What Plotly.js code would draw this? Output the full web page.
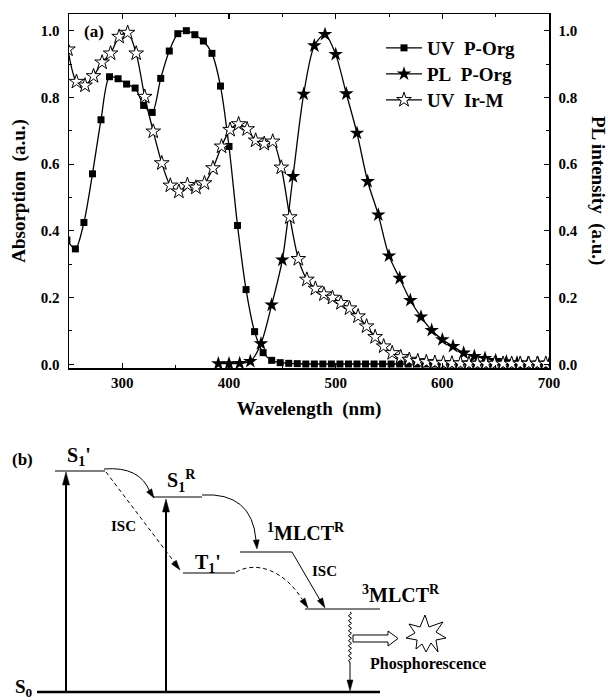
<!DOCTYPE html>
<html><head><meta charset="utf-8">
<script src="https://cdn.plot.ly/plotly-3.0.1.min.js"></script>
<style>html,body{margin:0;padding:0;background:#fff;}#chart{width:608px;height:700px;}</style>
</head><body><div id="chart"></div>
<script>
// ---------- data ----------
const uvPOrgX = [248,256,264,272,280,288,296,304,312,320,328,336,344,352,360,368,376,384,392,400,408,416,424,432,440,448,456,464,
  472,480,488,496,504,512,520,528,536,544,552,560,568,576,584,592,600,608,616,624,632,640,648,656,664,672,680,688,696];
const uvPOrgY = [0.373,0.346,0.425,0.571,0.733,0.862,0.856,0.840,0.828,0.776,0.755,0.857,0.939,0.991,1.000,0.988,0.969,0.932,0.834,0.653,0.416,0.224,0.098,0.035,0.012,0.005,0.003,0.002,
  0.001,0.001,0.001,0.001,0.001,0.001,0.001,0.001,0.001,0.001,0.001,0.001,0.001,0.001,0.001,0.001,0.001,0.001,0.001,0.001,0.001,0.001,0.001,0.001,0.001,0.001,0.001,0.001,0.001];

const plPOrgX = [390,400,410,420,430,440,450,460,470,480,490,500,510,520,530,540,550,560,570,580,590,600,610,620,630,640,650,660,670,680,690,700];
const plPOrgY = [0.002,0.002,0.003,0.009,0.062,0.178,0.313,0.563,0.810,0.955,0.989,0.929,0.811,0.693,0.548,0.448,0.325,0.258,0.192,0.142,0.102,0.074,0.054,0.034,0.024,0.018,0.012,0.008,0.005,0.003,0.002,0.001];

const uvIrMX = [249,257,265,273,281,289,297,305,313,321,329,337,345,353,361,369,377,385,393,401,409,417,425,433,441,449,457,465,473,481,489,497,
  505,513,521,529,537,545,553,561,569,577,585,593,601,609,617,625,633,641,649,657,665,673,681,689,697];
const uvIrMY = [0.944,0.847,0.836,0.864,0.905,0.932,0.982,0.994,0.932,0.802,0.698,0.603,0.536,0.518,0.538,0.530,0.543,0.588,0.653,0.703,0.720,0.705,0.671,0.661,0.668,0.590,0.441,0.316,0.254,0.227,0.210,0.200,
  0.184,0.168,0.144,0.114,0.082,0.054,0.034,0.022,0.014,0.010,0.007,0.005,0.004,0.003,0.003,0.002,0.002,0.002,0.002,0.002,0.002,0.002,0.002,0.002,0.002];

const seriesNames = ['UV\u00a0 P-Org', 'PL\u00a0 P-Org', 'UV\u00a0 Ir-M'];
const xTickVals = [300,400,500,600,700];
const yTickVals = [0,0.2,0.4,0.6,0.8,1.0];
const yTickText = ['0.0','0.2','0.4','0.6','0.8','1.0'];

// ---------- styling helpers ----------
const FAM = 'Liberation Serif';
const fnt = (s) => ({family: FAM, size: s, color: '#000', weight: 'bold'});
const W = 608, H = 700;
const X = p => p / W;
const Y = p => 1 - p / H;

const lineStyle = {color: '#000', width: 1.3, shape: 'spline', smoothing: 0.8};
const traces = [
  {x: uvPOrgX, y: uvPOrgY, name: seriesNames[0], mode: 'lines+markers', type: 'scatter', legend: 'legend',
   line: lineStyle, marker: {symbol: 'square', size: 7, color: '#000'}},
  {x: plPOrgX, y: plPOrgY, name: seriesNames[1], mode: 'lines+markers', type: 'scatter', legend: 'legend2',
   line: lineStyle, marker: {symbol: 'star', size: 11, color: '#000'}},
  {x: uvIrMX, y: uvIrMY, name: seriesNames[2], mode: 'lines+markers', type: 'scatter', legend: 'legend3',
   line: lineStyle, marker: {symbol: 'star', size: 11, color: '#fff', line: {color: '#000', width: 1}}}
];

const axCommon = {
  showline: true, linecolor: '#000', linewidth: 1.5, ticks: 'inside', ticklen: 5, tickwidth: 1.2, tickcolor: '#000',
  showgrid: false, zeroline: false, tickfont: fnt(15), automargin: false
};

// ---------- diagram (b) helpers ----------
const shapes = [];
function seg(x0, y0, x1, y1, w, dash) {
  shapes.push({type: 'line', xref: 'paper', yref: 'paper', x0: X(x0), y0: Y(y0), x1: X(x1), y1: Y(y1),
    line: {color: '#000', width: w, dash: dash || 'solid'}});
}
function pth(cmds, w, fill, dash) {
  let s = '';
  cmds.forEach(c => { s += (typeof c === 'string') ? c + ' ' : X(c[0]).toFixed(5) + ',' + Y(c[1]).toFixed(5) + ' '; });
  shapes.push({type: 'path', xref: 'paper', yref: 'paper', path: s.trim(),
    line: {color: '#000', width: w, dash: dash || 'solid'}, fillcolor: fill || 'rgba(0,0,0,0)'});
}
function head(tx, ty, fx, fy, L, hw) {
  const dx = tx - fx, dy = ty - fy, d = Math.hypot(dx, dy), ux = dx / d, uy = dy / d;
  const bx = tx - L * ux, by = ty - L * uy;
  pth(['M', [tx, ty], 'L', [bx - hw * uy, by + hw * ux], 'L', [bx + hw * uy, by - hw * ux], 'Z'], 0.5, '#000');
}

// energy levels
seg(37, 692, 380, 692, 2.5);          // S0
seg(55, 471, 105, 471, 1.2);          // S1'
seg(153, 497, 202, 497, 1.2);         // S1R
seg(183, 573, 235, 573, 1.2);         // T1'
seg(240, 552, 292, 552, 1.2);         // 1MLCT
seg(305, 609, 380, 609, 1.2);         // 3MLCT
// excitation arrows
seg(66, 692, 66, 484, 2); head(66, 472, 66, 500, 13, 3.5);
seg(166, 692, 166, 511, 2); head(166, 499, 166, 520, 13, 3.5);
// curved transfer arrows
pth(['M', [104, 469], 'Q', [140, 466], [150, 492]], 1);
head(154, 498, 147, 487, 9, 3);
pth(['M', [202, 495], 'Q', [252, 492], [256, 540]], 1);
head(257, 549, 256, 537, 9, 3);
// ISC dashed arrow S1' -> T1'
seg(106, 472, 175, 563, 1, '4px,3px'); head(180, 570, 170, 557, 10, 3);
// dashed curve T1' -> 3MLCT
pth(['M', [236, 572], 'C', [258, 560], [285, 572], [302, 599]], 1, null, '4px,3px');
head(308, 608, 300, 596, 10, 3);
// solid ISC arrow 1MLCT -> 3MLCT
seg(292, 552, 320, 600, 1); head(325, 608, 318, 596, 10, 3);
// wavy decay line
(function () {
  const c = ['M', [350, 612]];
  for (let y = 612; y < 660; y += 5) { c.push('Q', [353, y + 1.25], [350, y + 2.5], 'Q', [347, y + 3.75], [350, y + 5]); }
  pth(c, 1);
})();
seg(350, 662, 350, 681, 1); head(350, 691, 350, 676, 11, 3);
// hollow arrow
pth(['M', [353, 635], 'L', [388, 635], 'L', [388, 631], 'L', [398, 638.5], 'L', [388, 646], 'L', [388, 642], 'L', [353, 642], 'Z'], 1, '#fff');
// starburst
pth(['M', [425, 615], 'L', [429, 627], 'L', [443, 622], 'L', [436, 632], 'L', [446, 638], 'L', [436, 640], 'L', [438, 652],
  'L', [431, 643], 'L', [426, 652], 'L', [422, 644], 'L', [416, 649], 'L', [417, 640], 'L', [406, 638], 'L', [415, 633],
  'L', [409, 624], 'L', [420, 627], 'Z'], 1, '#fff');

function lab(text, x, y, size, xa) {
  return {text: text, xref: 'paper', yref: 'paper', x: X(x), y: Y(y), xanchor: xa || 'center', yanchor: 'middle',
    showarrow: false, font: fnt(size)};
}
const annotations = [
  lab('(a)', 94, 32, 17),
  {text: 'PL intensity\u00a0 (a.u.)', xref: 'paper', yref: 'paper', x: X(598), y: Y(190), textangle: 90,
   xanchor: 'center', yanchor: 'middle', showarrow: false, font: fnt(19)},
  lab('(b)', 22, 459, 17),
  lab("S<sub>1</sub>'", 79, 457, 20),
  lab('S<sub>1</sub><sup>R</sup>', 181, 481, 20),
  lab("T<sub>1</sub>'", 208, 563, 20),
  lab('<sup>1</sup>MLCT<sup>R</sup>', 306, 532, 20),
  lab('<sup>3</sup>MLCT<sup>R</sup>', 401, 594, 20),
  lab('ISC', 123, 526, 15),
  lab('ISC', 324, 571, 15),
  lab('Phosphorescence', 428, 664, 16),
  lab('S<sub>0</sub>', 24, 688, 19)
];

const legBase = {xanchor: 'left', yanchor: 'middle', bgcolor: 'rgba(0,0,0,0)', borderwidth: 0, font: fnt(19), itemwidth: 36};
const layout = {
  width: W, height: H, margin: {l: 0, r: 0, t: 0, b: 0},
  paper_bgcolor: '#fff', plot_bgcolor: 'rgba(0,0,0,0)', showlegend: true,
  xaxis: Object.assign({}, axCommon, {domain: [X(69), X(549)], range: [250, 700], tickvals: xTickVals, mirror: 'ticks',
    ticklabelstandoff: 0,
    minor: {ticks: 'inside', ticklen: 3, tickwidth: 1, tickcolor: '#000', dtick: 50, tick0: 250},
    title: {text: 'Wavelength\u00a0 (nm)', font: fnt(19), standoff: 12}}),
  yaxis: Object.assign({}, axCommon, {domain: [Y(368), Y(14)], range: [-0.011, 1.05], tickvals: yTickVals, ticktext: yTickText,
    ticklabelstandoff: 5,
    minor: {ticks: 'inside', ticklen: 3, tickwidth: 1, tickcolor: '#000', dtick: 0.1, tick0: 0},
    title: {text: 'Absorption\u00a0 (a.u.)', font: fnt(19), standoff: 10}}),
  yaxis2: Object.assign({}, axCommon, {overlaying: 'y', side: 'right', anchor: 'x', range: [-0.011, 1.05],
    tickvals: yTickVals, ticktext: yTickText, ticklabelstandoff: 5,
    minor: {ticks: 'inside', ticklen: 3, tickwidth: 1, tickcolor: '#000', dtick: 0.1, tick0: 0}}),
  legend: Object.assign({}, legBase, {x: X(381), y: Y(48)}),
  legend2: Object.assign({}, legBase, {x: X(381), y: Y(74)}),
  legend3: Object.assign({}, legBase, {x: X(381), y: Y(100)}),
  shapes: shapes,
  annotations: annotations
};
// dummy trace to activate the right axis (no visible marks)
traces.push({x: [], y: [], yaxis: 'y2', showlegend: false, hoverinfo: 'skip', type: 'scatter'});

Plotly.newPlot('chart', traces, layout, {staticPlot: true, displayModeBar: false});
</script>
</body></html>
